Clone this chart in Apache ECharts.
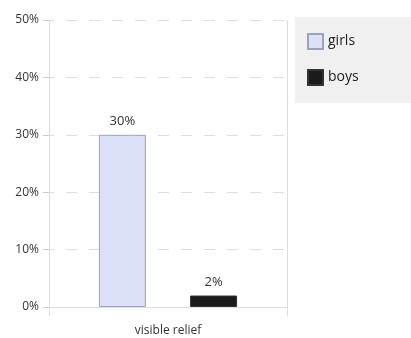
<!DOCTYPE html>
<html>
<head>
<meta charset="utf-8">
<script src="https://cdn.jsdelivr.net/npm/echarts@6/dist/echarts.min.js"></script>
<style>
  html, body { margin: 0; padding: 0; background: #fff; }
  #main { width: 411px; height: 338px; }
</style>
</head>
<body>
<div id="main"></div>
<script>
var categories = ['visible relief'];
var girls = [30];
var boys = [2];
var seriesNames = ['girls', 'boys'];

var myChart = echarts.init(document.getElementById('main'));

var option = {
    animation: false,
    textStyle: { fontFamily: 'Open Sans' },
    grid: { left: 49, right: 124, top: 20, bottom: 31 },
    legend: {
        data: seriesNames,
        orient: 'vertical',
        icon: 'rect',
        left: 295,
        top: 17,
        padding: [16, 56, 17, 12],
        itemWidth: 15,
        itemHeight: 15,
        itemGap: 19,
        backgroundColor: '#f0f0f0',
        textStyle: { fontSize: 14, color: '#222', fontFamily: 'Open Sans' }
    },
    xAxis: {
        type: 'category',
        data: categories,
        axisLine: { lineStyle: { color: '#ddd' } },
        axisTick: { show: true, length: 9, lineStyle: { color: '#ddd' } },
        splitLine: { show: true, lineStyle: { color: '#ddd' } },
        axisLabel: { color: '#333', fontSize: 12, margin: 18 }
    },
    yAxis: {
        type: 'value',
        min: 0,
        max: 50,
        interval: 10,
        axisLine: { show: true, lineStyle: { color: '#ddd' } },
        axisTick: { show: true, length: 6, lineStyle: { color: '#ccc' } },
        axisLabel: { formatter: '{value}%', color: '#333', fontSize: 12, margin: 10 },
        splitLine: { lineStyle: { color: '#ddd', type: [11, 12], dashOffset: 6 } }
    },
    series: [{
        name: 'girls',
        type: 'bar',
        data: girls,
        barWidth: 47,
        barGap: '94%',
        itemStyle: { color: '#dde1f7', borderColor: '#9ca2bd', borderWidth: 1 },
        label: { show: true, position: 'top', formatter: '{c}%', color: '#333', fontSize: 13, distance: 7 }
    }, {
        name: 'boys',
        type: 'bar',
        data: boys,
        barWidth: 47,
        itemStyle: { color: '#1b1b1b', borderColor: '#333', borderWidth: 1 },
        label: { show: true, position: 'top', formatter: '{c}%', color: '#333', fontSize: 13, distance: 7 }
    }]
};

myChart.setOption(option);
</script>
</body>
</html>
